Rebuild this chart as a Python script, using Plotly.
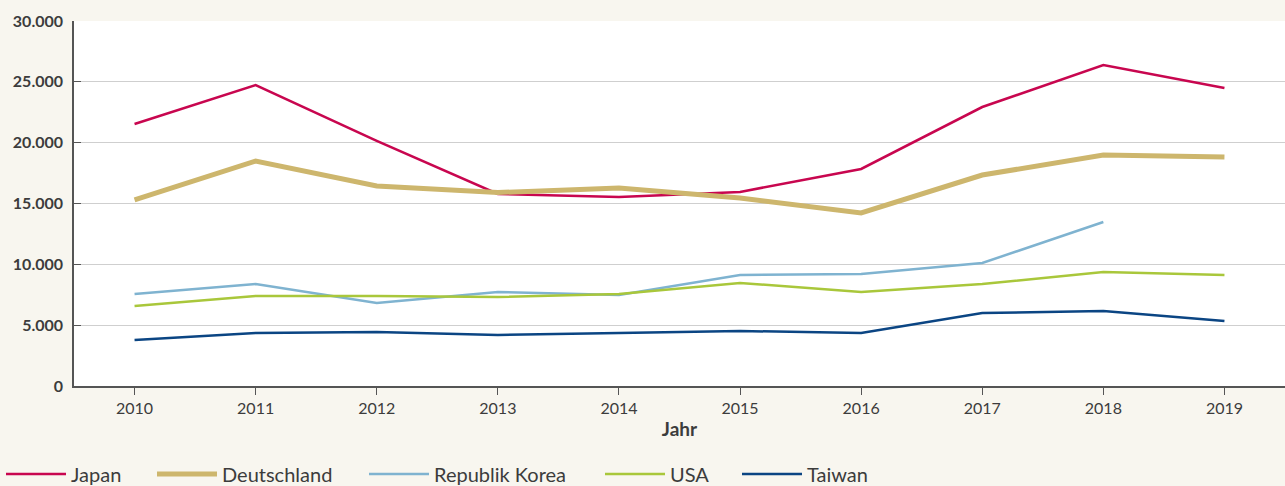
import plotly.graph_objects as go

years = [2010, 2011, 2012, 2013, 2014, 2015, 2016, 2017, 2018, 2019]
japan = [21530, 24740, 20140, 15780, 15530, 15950, 17840, 22930, 26380, 24490]
deutschland = [15290, 18490, 16440, 15900, 16270, 15450, 14220, 17340, 18990, 18820]
korea = [7560, 8380, 6820, 7730, 7480, 9120, 9210, 10110, 13480, None]
usa = [6580, 7400, 7400, 7320, 7560, 8470, 7730, 8380, 9370, 9120]
taiwan = [3780, 4360, 4440, 4190, 4360, 4520, 4360, 6000, 6160, 5340]

series = [
    ("Japan", japan, "#c8064f", 2.5),
    ("Deutschland", deutschland, "#cdb66d", 5),
    ("Republik Korea", korea, "#7fb3d0", 2.5),
    ("USA", usa, "#a9c73b", 2.5),
    ("Taiwan", taiwan, "#0b4583", 2.5),
]
legend_starts = [1, 152, 364, 600, 737]

fig = go.Figure()
legend_layout = {}
for i, (name, vals, color, w) in enumerate(series):
    lname = "legend" if i == 0 else f"legend{i+1}"
    fig.add_trace(go.Scatter(x=years, y=vals, name=name, mode="lines", legend=lname,
                             line=dict(color=color, width=w), connectgaps=False))
    legend_layout[lname] = dict(
        orientation="h", x=legend_starts[i] / 1285, xanchor="left",
        y=12 / 486, yanchor="middle", xref="container", yref="container",
        font=dict(family="Lato", size=20, color="#3c3c3c"),
        bgcolor="rgba(0,0,0,0)", itemwidth=60)

fig.update_layout(
    width=1285, height=486,
    margin=dict(l=74, r=0, t=21, b=100),
    paper_bgcolor="#f8f6ef",
    plot_bgcolor="#ffffff",
    separators=",.",
    font=dict(family="Lato", size=16, color="#3c3c3c"),
    showlegend=True,
    xaxis=dict(range=[2009.5, 2019.5], tickmode="array", tickvals=years,
               ticktext=[str(y) for y in years],
               showgrid=False, showline=True, linecolor="#555555", linewidth=1.5,
               ticks="outside", ticklen=7, tickcolor="#555555",
               tickfont=dict(family="Lato", size=16, color="#3c3c3c"),
               title=dict(text="<b>Jahr</b>", standoff=7,
                          font=dict(family="Lato", size=19, color="#3c3c3c")),
               zeroline=False),
    yaxis=dict(range=[0, 30000], tickvals=[0, 5000, 10000, 15000, 20000, 25000, 30000],
               tickformat=",d",
               showgrid=True, gridcolor="#cfcfcf", gridwidth=1,
               showline=True, linecolor="#555555", linewidth=1.5,
               ticks="inside", ticklen=7, tickcolor="#555555",
               ticklabelstandoff=6,
               tickfont=dict(family="Lato", size=16, color="#3c3c3c", weight="bold"),
               zeroline=False),
    **legend_layout,
)

fig.write_html("out.html", config={"displayModeBar": False},
               post_script="document.body.style.margin='0';document.body.style.overflow='hidden';")
